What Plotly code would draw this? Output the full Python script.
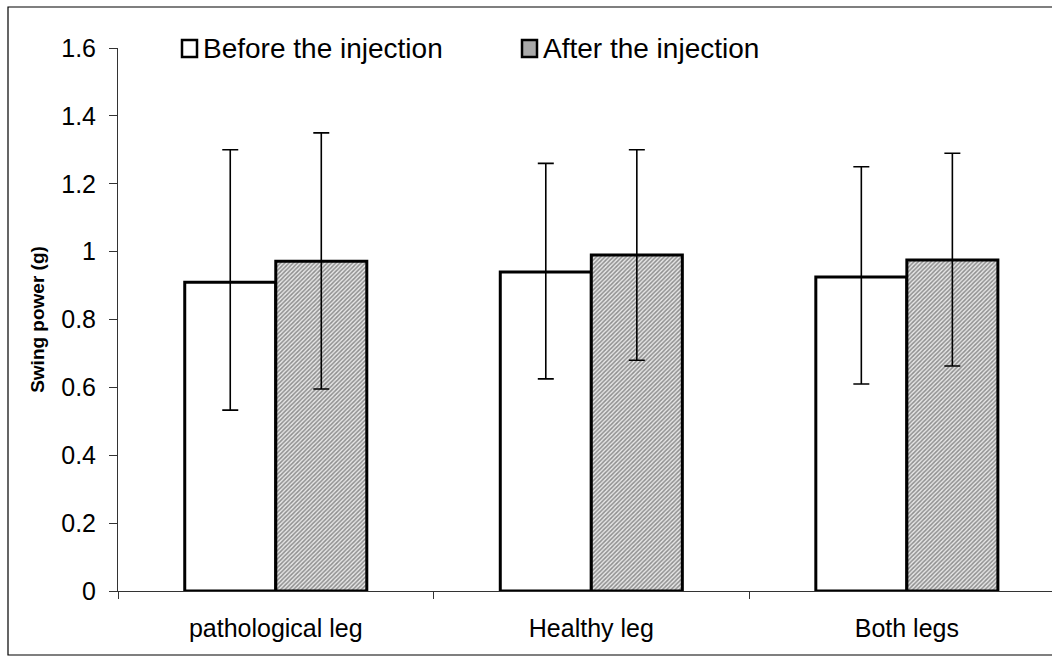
import plotly.graph_objects as go

categories = ["pathological leg", "Healthy leg", "Both legs"]
before = [0.910, 0.940, 0.925]
after = [0.972, 0.990, 0.975]
before_hi = [1.30, 1.26, 1.25]
before_lo = [0.533, 0.625, 0.610]
after_hi = [1.35, 1.30, 1.29]
after_lo = [0.595, 0.680, 0.663]
series_names = ["Before the injection", "After the injection"]
y_ticks = [0, 0.2, 0.4, 0.6, 0.8, 1, 1.2, 1.4, 1.6]

FONT = "Liberation Sans, Arial, sans-serif"

def err(vals, hi, lo):
    return dict(type="data", symmetric=False,
                array=[h - v for h, v in zip(hi, vals)],
                arrayminus=[v - l for v, l in zip(vals, lo)],
                color="black", thickness=1.6, width=8)

fig = go.Figure()
fig.add_trace(go.Bar(
    x=categories, y=before, name=series_names[0],
    marker=dict(color="white", line=dict(color="black", width=3)),
    error_y=err(before, before_hi, before_lo), showlegend=False))
fig.add_trace(go.Bar(
    x=categories, y=after, name=series_names[1],
    marker=dict(color="white", line=dict(color="black", width=3),
                pattern=dict(shape="/", size=3, solidity=0.5,
                             fgcolor="#333", bgcolor="#e8e8e8")),
    error_y=err(after, after_hi, after_lo), showlegend=False))

W, H = 1052, 663
L, R, T, B = 118, 0, 48, 72
pw, ph = W - L - R, H - T - B

def px(x):
    return (x - L) / pw

def py(y):
    return 1 - (y - T) / ph

shapes = [
    # outer frame
    dict(type="rect", xref="paper", yref="paper",
         x0=px(8), x1=px(1070), y0=py(655), y1=py(7),
         line=dict(color="black", width=1.2), fillcolor="rgba(0,0,0,0)", layer="below"),
    # legend squares
    dict(type="rect", xref="paper", yref="paper",
         x0=px(182), x1=px(197), y0=py(57), y1=py(40),
         line=dict(color="black", width=2.5), fillcolor="white"),
    dict(type="rect", xref="paper", yref="paper",
         x0=px(522), x1=px(537), y0=py(57), y1=py(40),
         line=dict(color="black", width=2.5), fillcolor="#a9a9a9"),
]
annotations = [
    dict(xref="paper", yref="paper", x=px(201), y=py(48), xanchor="left", yanchor="middle",
         text=series_names[0], showarrow=False, font=dict(family=FONT, size=28, color="black")),
    dict(xref="paper", yref="paper", x=px(541), y=py(48), xanchor="left", yanchor="middle",
         text=series_names[1], showarrow=False, font=dict(family=FONT, size=28, color="black")),
]

fig.update_layout(
    width=W, height=H,
    margin=dict(l=L, r=R, t=T, b=B),
    paper_bgcolor="white", plot_bgcolor="white",
    barmode="group", bargap=0.423, bargroupgap=0,
    font=dict(family=FONT, color="black"),
    shapes=shapes, annotations=annotations,
    showlegend=False,
    xaxis=dict(type="category", range=[-0.5, 2.46], tickson="boundaries",
               ticks="outside", ticklen=7, tickwidth=1, tickcolor="#333",
               showline=True, linecolor="#333", linewidth=1, showgrid=False,
               ticklabelstandoff=15,
               tickfont=dict(family=FONT, size=25, color="black"), zeroline=False),
    yaxis=dict(range=[0, 1.6], tickvals=y_ticks, ticks="outside", ticklen=8,
               tickwidth=1, tickcolor="#333", showline=True, linecolor="#333",
               linewidth=1, showgrid=False, zeroline=False,
               ticklabelstandoff=8,
               tickfont=dict(family=FONT, size=25, color="black"),
               title=dict(text="<b>Swing power (g)</b>", standoff=11,
                          font=dict(family=FONT, size=19, color="black"))),
)

fig.write_html("out.html")
